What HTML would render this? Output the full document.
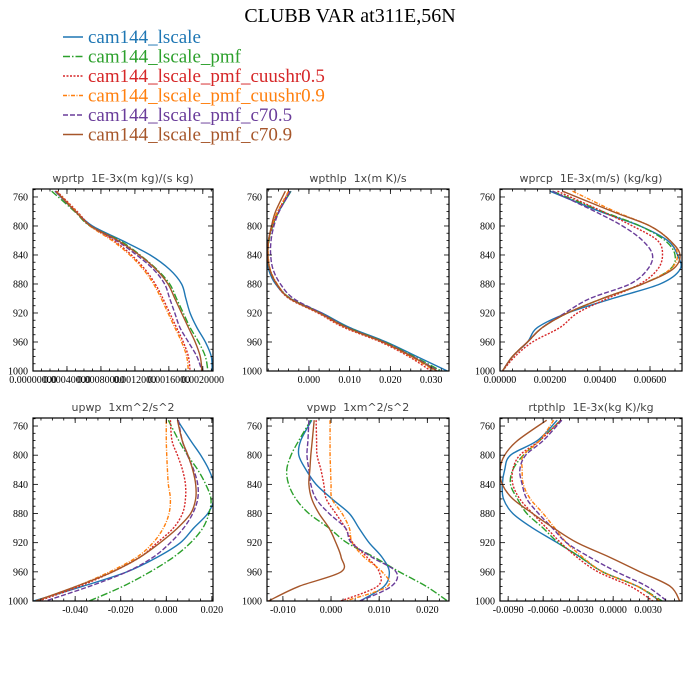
<!DOCTYPE html>
<html><head><meta charset="utf-8"><style>
html,body{margin:0;padding:0;background:#fff;}
svg{display:block;}
.pt{font-family:"DejaVu Sans","Liberation Sans",sans-serif;font-size:11px;fill:#444;white-space:pre;}
.tl{font-family:"Liberation Serif",serif;font-size:10px;fill:#000;}
.lg{font-family:"Liberation Serif",serif;font-size:19px;}
</style></head><body>
<svg id="chart" width="700" height="700" viewBox="0 0 700 700" xmlns="http://www.w3.org/2000/svg">
<rect width="700" height="700" fill="#fff"/>
<text x="350" y="22" text-anchor="middle" font-family="Liberation Serif, serif" font-size="20">CLUBB VAR at311E,56N</text>
<g id="legend"></g>
<g id="panels"></g>
</svg>
<script>
const seriesNames = ["cam144_lscale","cam144_lscale_pmf","cam144_lscale_pmf_cuushr0.5","cam144_lscale_pmf_cuushr0.9","cam144_lscale_pmf_c70.5","cam144_lscale_pmf_c70.9"];
const seriesColors = ["#1f77b4","#2ca02c","#d62728","#ff7f0e","#6a3d9a","#a6562a"];
const seriesDash = ["","7,2,1.5,2","2,1.5","4,1.5,1,1.5","5,2",""];
const levels = [752,780,800,820,840,860,880,900,920,940,960,980,1000];
const yTickValues = [760,800,840,880,920,960,1000];

const wprtpValues = [
 [0.00026,0.00050,0.00070,0.00105,0.00138,0.00161,0.00175,0.00180,0.00185,0.00193,0.00203,0.00210,0.00211],
 [0.00022,0.00049,0.00067,0.00102,0.00126,0.00146,0.00161,0.00169,0.00177,0.00185,0.00195,0.00203,0.00206],
 [0.00028,0.00052,0.00068,0.00095,0.00116,0.00132,0.00144,0.00153,0.00161,0.00169,0.00177,0.00183,0.00185],
 [0.00027,0.00051,0.00067,0.00093,0.00114,0.00130,0.00142,0.00151,0.00159,0.00167,0.00175,0.00181,0.00183],
 [0.00026,0.00050,0.00068,0.00098,0.00122,0.00142,0.00155,0.00161,0.00167,0.00173,0.00183,0.00193,0.00199],
 [0.00027,0.00050,0.00068,0.00100,0.00125,0.00145,0.00159,0.00167,0.00175,0.00183,0.00191,0.00197,0.00199]];
const wpthlpValues = [
 [-0.0044,-0.0074,-0.0090,-0.0100,-0.0104,-0.0099,-0.0082,-0.0046,0.0032,0.0100,0.0190,0.0265,0.0340],
 [-0.0045,-0.0074,-0.0089,-0.0098,-0.0101,-0.0096,-0.0079,-0.0045,0.0029,0.0096,0.0186,0.0258,0.0325],
 [-0.0048,-0.0076,-0.0090,-0.0099,-0.0101,-0.0096,-0.0080,-0.0049,0.0022,0.0086,0.0176,0.0245,0.0300],
 [-0.0050,-0.0077,-0.0091,-0.0099,-0.0100,-0.0095,-0.0078,-0.0047,0.0025,0.0090,0.0180,0.0250,0.0310],
 [-0.0046,-0.0073,-0.0086,-0.0093,-0.0094,-0.0088,-0.0070,-0.0038,0.0030,0.0094,0.0183,0.0255,0.0318],
 [-0.0058,-0.0082,-0.0092,-0.0099,-0.0101,-0.0096,-0.0079,-0.0047,0.0026,0.0092,0.0182,0.0253,0.0315]];
const wprcpValues = [
 [0.0020,0.0040,0.0056,0.0067,0.0071,0.0072,0.0064,0.0045,0.0027,0.0015,0.0011,0.0005,0.0001],
 [0.0021,0.0041,0.0056,0.0066,0.0070,0.0068,0.0057,0.0041,0.0027,0.0017,0.0011,0.0005,0.0001],
 [0.0023,0.0041,0.0053,0.0063,0.0065,0.0063,0.0056,0.0043,0.0031,0.0024,0.0013,0.0006,0.0001],
 [0.0029,0.0046,0.0060,0.0068,0.0071,0.0068,0.0057,0.0041,0.0027,0.0017,0.0011,0.0005,0.0001],
 [0.0021,0.0038,0.0049,0.0057,0.0061,0.0059,0.0052,0.0036,0.0026,0.0017,0.0011,0.0005,0.0001],
 [0.0025,0.0045,0.0060,0.0068,0.0072,0.0069,0.0057,0.0041,0.0027,0.0017,0.0011,0.0005,0.0001]];
const upwpValues = [
 [0.0049,0.0107,0.0151,0.0187,0.0210,0.0210,0.0182,0.0120,0.0062,-0.0040,-0.0173,-0.0369,-0.0582],
 [0.0009,0.0055,0.0093,0.0138,0.0173,0.0196,0.0187,0.0160,0.0107,0.0031,-0.0071,-0.0191,-0.0338],
 [0.0018,0.0025,0.0049,0.0071,0.0084,0.0084,0.0071,0.0031,-0.0040,-0.0116,-0.0236,-0.0382,-0.0560],
 [0.0000,0.0000,0.0002,0.0005,0.0009,0.0018,0.0012,-0.0013,-0.0058,-0.0130,-0.0249,-0.0396,-0.0573],
 [0.0053,0.0070,0.0093,0.0120,0.0138,0.0138,0.0116,0.0076,0.0018,-0.0058,-0.0173,-0.0338,-0.0530],
 [0.0049,0.0070,0.0095,0.0116,0.0129,0.0129,0.0107,0.0049,-0.0027,-0.0116,-0.0236,-0.0396,-0.0573]];
const vpwpValues = [
 [-0.0040,-0.0063,-0.0067,-0.0052,-0.0031,0.0002,0.0038,0.0058,0.0079,0.0106,0.0121,0.0110,0.0060],
 [-0.0042,-0.0067,-0.0083,-0.0092,-0.0088,-0.0073,-0.0046,-0.0004,0.0033,0.0090,0.0142,0.0198,0.0242],
 [-0.0031,-0.0030,-0.0029,-0.0021,-0.0015,-0.0010,0.0010,0.0030,0.0045,0.0075,0.0100,0.0096,0.0020],
 [-0.0002,-0.0002,-0.0002,-0.0001,0.0000,0.0002,0.0023,0.0038,0.0044,0.0069,0.0106,0.0117,0.0030],
 [-0.0046,-0.0048,-0.0050,-0.0046,-0.0042,-0.0031,-0.0004,0.0030,0.0042,0.0085,0.0135,0.0125,0.0060],
 [-0.0035,-0.0039,-0.0042,-0.0044,-0.0046,-0.0040,-0.0025,-0.0004,0.0010,0.0021,0.0021,-0.0067,-0.0130]];
const rtpthlpValues = [
 [-0.0048,-0.0065,-0.0088,-0.0093,-0.0095,-0.0094,-0.0086,-0.0069,-0.0048,-0.0028,-0.0009,0.0021,0.0040],
 [-0.0045,-0.0063,-0.0077,-0.0086,-0.0088,-0.0082,-0.0074,-0.0060,-0.0047,-0.0028,-0.0009,0.0021,0.0042],
 [-0.0045,-0.0063,-0.0080,-0.0086,-0.0086,-0.0080,-0.0069,-0.0057,-0.0045,-0.0031,-0.0013,0.0015,0.0034],
 [-0.0051,-0.0063,-0.0077,-0.0078,-0.0077,-0.0071,-0.0060,-0.0050,-0.0040,-0.0026,-0.0009,0.0021,0.0040],
 [-0.0044,-0.0060,-0.0075,-0.0080,-0.0078,-0.0074,-0.0064,-0.0052,-0.0040,-0.0020,0.0003,0.0029,0.0046],
 [-0.0057,-0.0082,-0.0093,-0.0097,-0.0095,-0.0086,-0.0069,-0.0051,-0.0031,-0.0003,0.0023,0.0049,0.0057]];

const wprtpTicks = [0,0.0004,0.0008,0.0012,0.0016,0.0020];
const wprtpLabels = ["0.00000000","0.00040000","0.00080000","0.0012000","0.0016000","0.0020000"];
const wpthlpTicks = [0,0.01,0.02,0.03];
const wpthlpLabels = ["0.000","0.010","0.020","0.030"];
const wprcpTicks = [0,0.002,0.004,0.006];
const wprcpLabels = ["0.00000","0.00200","0.00400","0.00600"];
const upwpTicks = [-0.04,-0.02,0,0.02];
const upwpLabels = ["-0.040","-0.020","0.000","0.020"];
const vpwpTicks = [-0.01,0,0.01,0.02];
const vpwpLabels = ["-0.010","0.000","0.010","0.020"];
const rtpthlpTicks = [-0.009,-0.006,-0.003,0,0.003];
const rtpthlpLabels = ["-0.0090","-0.0060","-0.0030","0.0000","0.0030"];

const NS = "http://www.w3.org/2000/svg";
function mk(tag, attrs, parent){ const e=document.createElementNS(NS,tag); for(const k in attrs) e.setAttribute(k,attrs[k]); parent.appendChild(e); return e; }

const panels = [
 {id:"wprtp", title:"wprtp  1E-3x(m kg)/(s kg)", vals:wprtpValues, ticks:wprtpTicks, labels:wprtpLabels, xmin:0, xmax:0.00212, minorStep:0.0001, x0:33,x1:213,y0:189,y1:371},
 {id:"wpthlp", title:"wpthlp  1x(m K)/s", vals:wpthlpValues, ticks:wpthlpTicks, labels:wpthlpLabels, xmin:-0.0103, xmax:0.0344, minorStep:0.0025, x0:267,x1:449,y0:189,y1:371},
 {id:"wprcp", title:"wprcp  1E-3x(m/s) (kg/kg)", vals:wprcpValues, ticks:wprcpTicks, labels:wprcpLabels, xmin:0, xmax:0.00728, minorStep:0.0005, x0:500,x1:682,y0:189,y1:371},
 {id:"upwp", title:"upwp  1xm^2/s^2", vals:upwpValues, ticks:upwpTicks, labels:upwpLabels, xmin:-0.0585, xmax:0.0205, minorStep:0.005, x0:33,x1:213,y0:418,y1:601},
 {id:"vpwp", title:"vpwp  1xm^2/s^2", vals:vpwpValues, ticks:vpwpTicks, labels:vpwpLabels, xmin:-0.0133, xmax:0.0245, minorStep:0.0025, x0:267,x1:449,y0:418,y1:601},
 {id:"rtpthlp", title:"rtpthlp  1E-3x(kg K)/kg", vals:rtpthlpValues, ticks:rtpthlpTicks, labels:rtpthlpLabels, xmin:-0.0097, xmax:0.0059, minorStep:0.00075, x0:500,x1:682,y0:418,y1:601}
];
const pTop = 749, pBot = 1000;

function smoothPath(pts){
  let d = "M"+pts[0][0].toFixed(2)+","+pts[0][1].toFixed(2);
  for(let i=0;i<pts.length-1;i++){
    const p0=pts[Math.max(0,i-1)], p1=pts[i], p2=pts[i+1], p3=pts[Math.min(pts.length-1,i+2)];
    const c1x=p1[0]+(p2[0]-p0[0])/6, c1y=p1[1]+(p2[1]-p0[1])/6;
    const c2x=p2[0]-(p3[0]-p1[0])/6, c2y=p2[1]-(p3[1]-p1[1])/6;
    d += " C"+c1x.toFixed(2)+","+c1y.toFixed(2)+" "+c2x.toFixed(2)+","+c2y.toFixed(2)+" "+p2[0].toFixed(2)+","+p2[1].toFixed(2);
  }
  return d;
}

const lg = document.getElementById("legend");
seriesNames.forEach((n,i)=>{
  const y = 37 + i*19.5;
  const g = mk("g",{},lg);
  
  
  const l = mk("line",{x1:63,x2:83,y1:y,y2:y,stroke:seriesColors[i],"stroke-width":1.5},g);
  if(seriesDash[i]) l.setAttribute("stroke-dasharray",seriesDash[i]);
  const t = mk("text",{x:88,y:y+6,class:"lg",fill:seriesColors[i]},g);
  t.textContent = n;
});

const root = document.getElementById("panels");
panels.forEach(P=>{
  const g = mk("g",{},root);
  
  
  const xs = v => P.x0 + (v-P.xmin)/(P.xmax-P.xmin)*(P.x1-P.x0);
  const ys = p => P.y0 + (p-pTop)/(pBot-pTop)*(P.y1-P.y0);
  const t = mk("text",{x:(P.x0+P.x1)/2,y:P.y0-7,"text-anchor":"middle",class:"pt"},g);
  
  
  t.textContent = P.title;
  const cp = mk("clipPath",{id:"clip-"+P.id},g);
  mk("rect",{x:P.x0,y:P.y0,width:P.x1-P.x0,height:P.y1-P.y0},cp);
  const lines = mk("g",{"clip-path":"url(#clip-"+P.id+")"},g);
  
  
  P.vals.forEach((arr,i)=>{
    const pts = arr.map((v,k)=>[xs(v), ys(levels[k])]);
    const pth = mk("path",{d:smoothPath(pts),fill:"none",stroke:seriesColors[i],"stroke-width":1.4,"stroke-linejoin":"round"},lines);
    
    
    if(seriesDash[i]) pth.setAttribute("stroke-dasharray",seriesDash[i]);
  });
  const fr = mk("rect",{x:P.x0,y:P.y0,width:P.x1-P.x0,height:P.y1-P.y0,fill:"none",stroke:"#000","stroke-width":1.2},g);
  
  
  const tk = mk("g",{stroke:"#000","stroke-width":0.8},g);
  
  
  for(let p=750;p<=1000;p+=10){
    const y=ys(p); const major = (p-760)%40===0 && p>=760;
    const L = major?5:2.5;
    mk("line",{x1:P.x0,x2:P.x0+L,y1:y,y2:y},tk);
    mk("line",{x1:P.x1,x2:P.x1-L,y1:y,y2:y},tk);
  }
  yTickValues.forEach(p=>{
    const tt = mk("text",{x:P.x0-5,y:ys(p)+3.5,"text-anchor":"end",class:"tl"},g);
    
    
    tt.textContent = p;
  });
  const start = Math.ceil(P.xmin/P.minorStep)*P.minorStep;
  for(let v=start; v<=P.xmax+1e-12; v+=P.minorStep){
    const x=xs(v);
    mk("line",{x1:x,x2:x,y1:P.y1,y2:P.y1-2.5},tk);
    mk("line",{x1:x,x2:x,y1:P.y0,y2:P.y0+2.5},tk);
  }
  P.ticks.forEach((v,k)=>{
    const x=xs(v);
    mk("line",{x1:x,x2:x,y1:P.y1,y2:P.y1-5},tk);
    mk("line",{x1:x,x2:x,y1:P.y0,y2:P.y0+5},tk);
    const tt = mk("text",{x:x,y:P.y1+12,"text-anchor":"middle",class:"tl"},g);
    
    
    tt.textContent = P.labels[k];
  });
});
</script>
</body></html>
